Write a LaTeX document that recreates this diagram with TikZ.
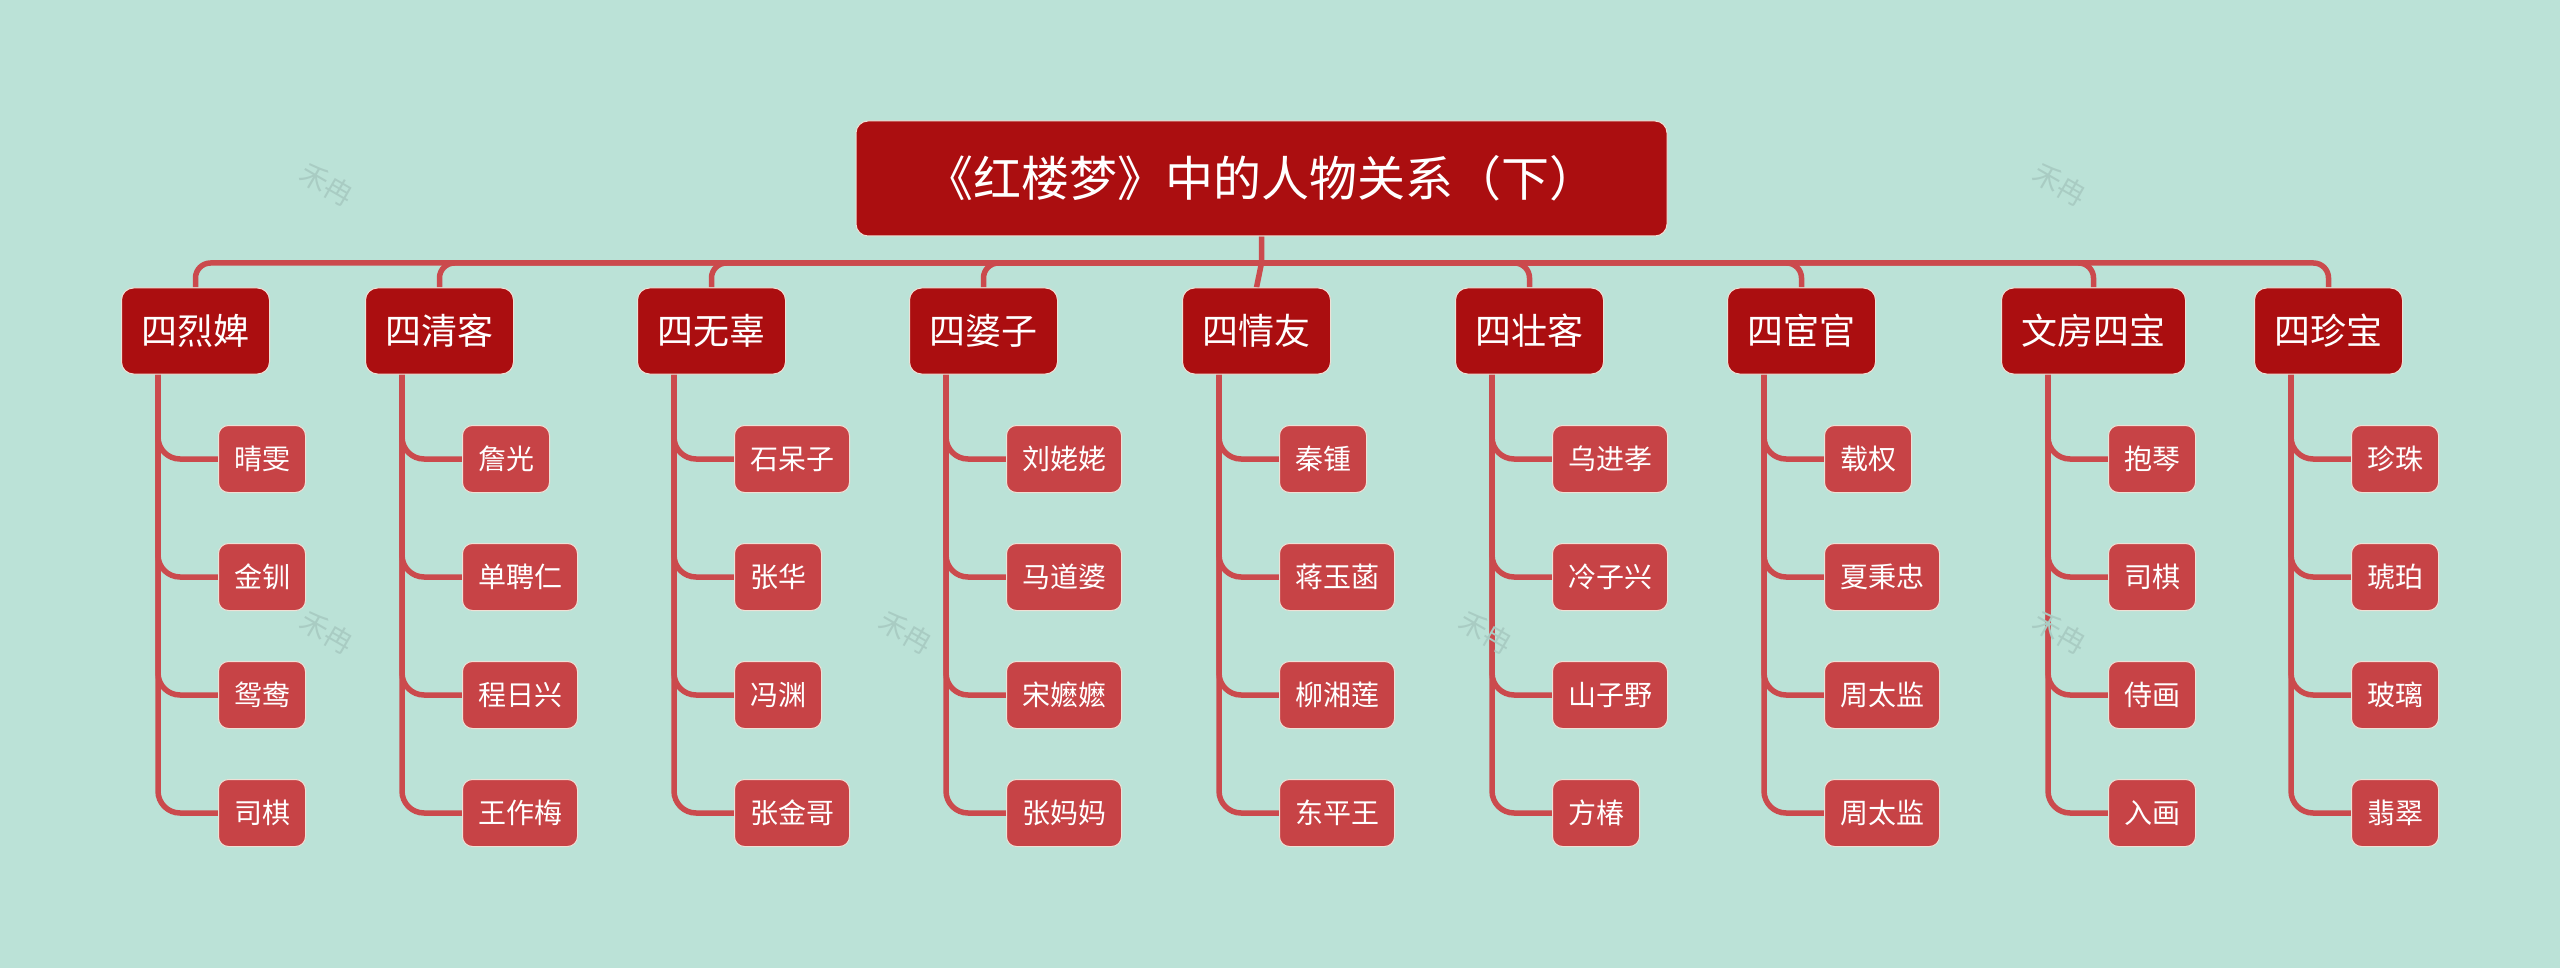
\documentclass[tikz,border=0pt]{standalone}
\usepackage{fontspec}
\setmainfont{Noto Sans CJK SC}
\usetikzlibrary{calc}
\definecolor{bgc}{HTML}{BBE2D7}
\definecolor{dred}{HTML}{AB0E10}
\definecolor{lred}{HTML}{C74346}
\definecolor{linec}{HTML}{CB4A4D}
\definecolor{edgec}{HTML}{EFE0D6}
\definecolor{wmc}{HTML}{A9CCC3}
\pgfdeclarelayer{bgl}
\pgfdeclarelayer{lines}
\pgfsetlayers{bgl,lines,main}
\tikzset{
  rootbox/.style={fill=dred, draw=edgec, line width=1pt, text=white, rounded corners=12pt,
    minimum width=811pt, minimum height=115pt, inner sep=0pt,
    font=\fontsize{48pt}{48pt}\selectfont},
  mainbox/.style={fill=dred, draw=edgec, line width=1pt, text=white, rounded corners=12pt,
    minimum height=86pt, inner xsep=20pt, inner ysep=0pt,
    font=\fontsize{36pt}{36pt}\selectfont},
  leafbox/.style={fill=lred, draw=edgec, line width=1pt, text=white, rounded corners=10pt,
    minimum height=67pt, inner xsep=15.5pt, inner ysep=0pt,
    font=\fontsize{28pt}{28pt}\selectfont},
  conn/.style={draw=linec, line width=5.5pt},
  wmark/.style={text=wmc, rotate=-30, font=\fontsize{28pt}{28pt}\selectfont},
}
\begin{document}
\begin{tikzpicture}[x=1pt,y=-1pt]
\begin{pgfonlayer}{bgl}
\fill[bgc] (0,0) rectangle (2560,968);
\end{pgfonlayer}
\useasboundingbox (0,0) rectangle (2560,968);

% watermarks
\foreach \n/\wx/\wy in {w1/327/184, w2/327/632, w3/906/632, w4/1486/632, w5/2060/184, w6/2060/632}
  \node[wmark] (\n) at (\wx,\wy) {禾冉};

% root
\node[rootbox] (root) at (1261.5,178.5) {《红楼梦》中的人物关系（下）};
\coordinate (bus) at (0,263);

% main nodes
\foreach \n/\mx/\lbl in {m1/121/四烈婢, m2/365/四清客, m3/637/四无辜, m4/909/四婆子,
    m5/1182/四情友, m6/1455/四壮客, m7/1727/四宦官, m8/2001/文房四宝, m9/2254/四珍宝}
  \node[mainbox, anchor=west] (\n) at (\mx,331) {\lbl};

\begin{pgfonlayer}{lines}
\draw[conn] (root.south) -- (root.south |- bus) -- (m5.north);
\foreach \n in {m1,m2,m3,m4,m6,m7,m8,m9}
  \draw[conn, rounded corners=15pt] (root.south |- bus) -- (\n.north |- bus) -- (\n.north);
\end{pgfonlayer}

% leaves
\foreach \g/\off/\la/\lb/\lc/\ld in {
    m1/37/晴雯/金钏/鸳鸯/司棋,
    m2/37/詹光/单聘仁/程日兴/王作梅,
    m3/37/石呆子/张华/冯渊/张金哥,
    m4/37/刘姥姥/马道婆/宋嬷嬷/张妈妈,
    m5/37/秦锺/蒋玉菡/柳湘莲/东平王,
    m6/37/乌进孝/冷子兴/山子野/方椿,
    m7/37/载权/夏秉忠/周太监/周太监,
    m8/47/抱琴/司棋/侍画/入画,
    m9/37/珍珠/琥珀/玻璃/翡翠}{
  \coordinate (\g-line) at ($(\g.south west)+(\off,0)$);
  \foreach \lbl/\yy [count=\i] in {\la/459,\lb/577,\lc/695,\ld/813}{
    \node[leafbox, anchor=west] (\g-\i) at ($(\g-line |- 0,\yy)+(60,0)$) {\lbl};
    \begin{pgfonlayer}{lines}
    \draw[conn, rounded corners=22pt] (\g-line) |- (\g-\i.west);
    \end{pgfonlayer}
  }
}
\end{tikzpicture}
\end{document}
